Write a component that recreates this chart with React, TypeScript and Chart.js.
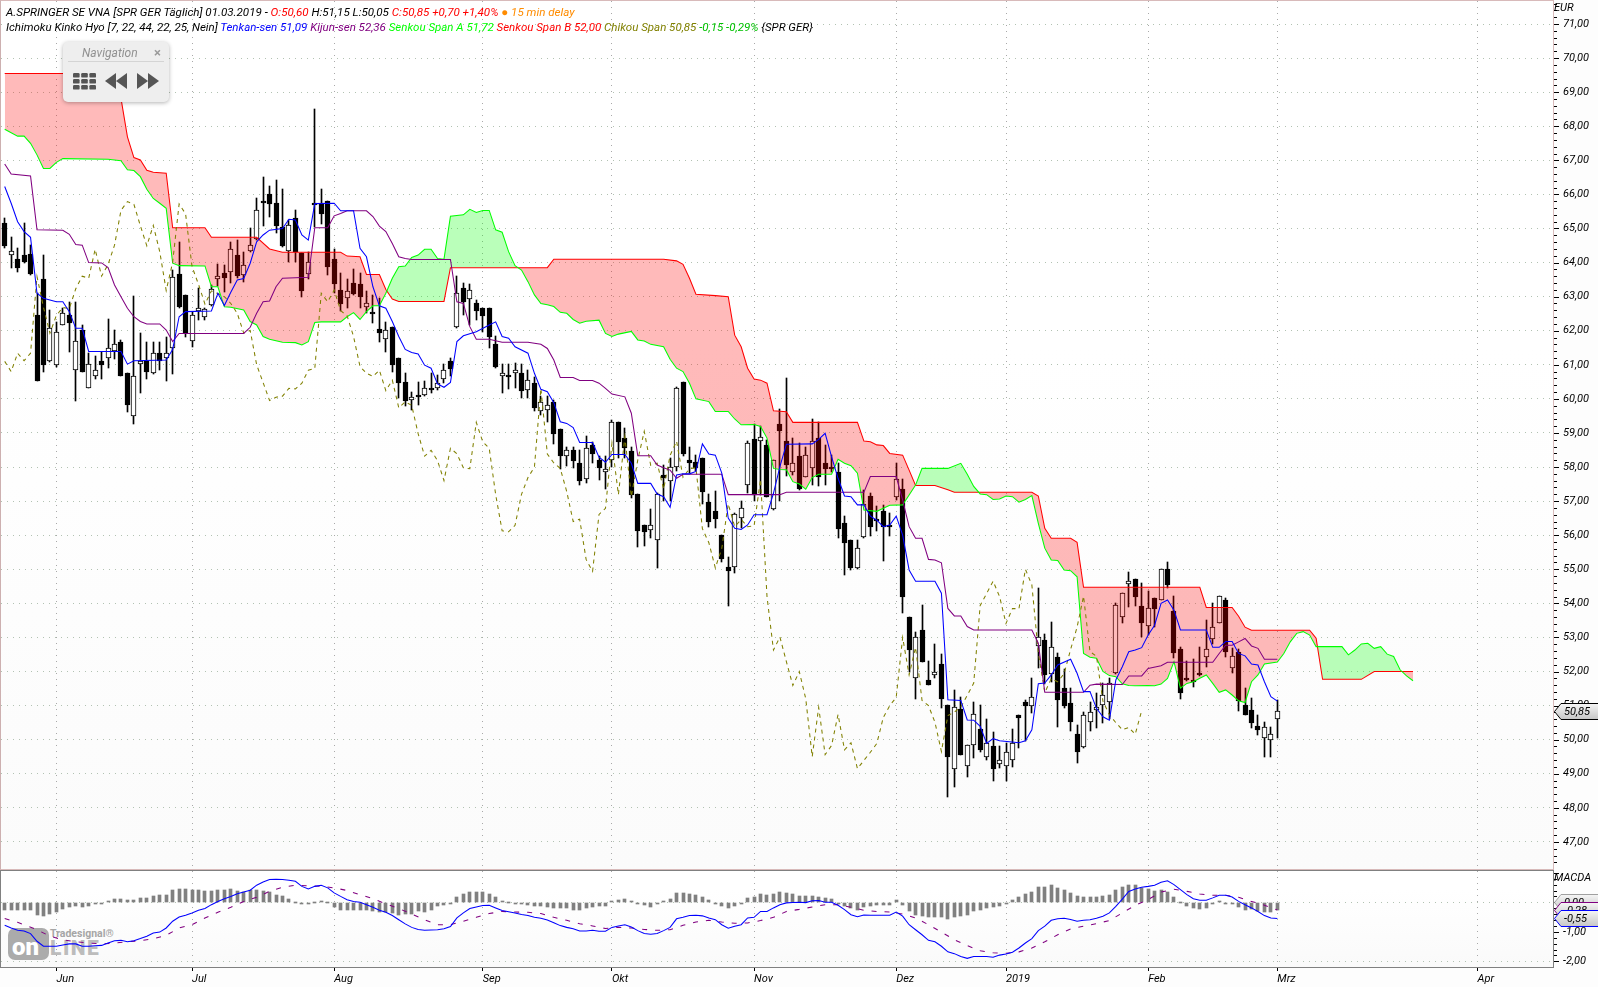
import React, { useEffect, useRef } from "react";
import { Chart, registerables } from "chart.js";

Chart.register(...registerables);

const opens = [65.15,64.21,64.09,64.21,64.24,62.46,63.51,61.10,61.00,62.18,62.46,60.84,62.02,60.33,60.68,61.10,61.19,61.40,61.66,60.77,59.49,61.01,61.10,60.75,61.34,61.19,61.48,63.66,63.05,61.69,62.59,62.39,62.74,63.54,63.68,63.73,64.21,63.63,64.35,64.69,65.80,66.00,65.74,65.03,64.35,65.30,64.27,63.66,65.75,65.72,65.80,64.09,63.19,62.95,63.39,63.37,62.69,62.54,62.05,61.75,62.10,61.19,60.49,59.96,60.11,60.10,60.31,60.31,60.59,61.10,62.10,63.24,62.94,62.80,62.66,62.66,61.61,60.69,60.70,60.75,60.76,60.25,60.46,59.65,59.66,59.91,59.12,58.31,58.49,58.12,57.64,58.65,58.20,57.85,58.20,59.31,58.85,58.46,57.21,56.30,56.14,55.85,57.77,57.60,58.00,60.50,58.21,58.14,58.26,56.97,56.71,56.00,55.07,55.06,56.50,57.46,58.81,58.76,58.65,56.76,59.26,58.76,57.86,58.32,57.70,57.97,58.84,58.11,58.00,57.84,56.35,55.85,55.05,55.94,57.15,56.48,56.71,56.29,57.13,57.36,53.60,51.80,53.22,51.75,51.94,52.22,51.02,49.15,50.90,49.24,49.83,50.30,49.50,49.82,49.30,49.22,49.39,50.71,51.11,51.00,52.74,52.93,51.92,52.42,51.51,51.07,50.16,49.78,50.51,50.86,51.01,51.11,51.95,53.59,54.58,54.71,53.92,53.35,54.15,54.10,55.01,53.78,52.65,51.81,51.74,51.96,52.42,52.95,53.41,54.09,52.09,52.58,51.02,50.87,50.39,50.04,49.98,50.60];
const highs = [65.30,64.74,64.42,65.15,64.51,63.10,64.22,62.61,62.27,62.66,62.85,62.85,62.17,61.34,61.26,61.39,62.33,62.02,61.73,60.77,63.02,61.92,61.68,61.68,61.68,61.83,63.78,64.60,63.05,62.56,63.24,62.66,63.34,63.96,63.93,64.59,64.66,64.30,65.00,65.88,66.50,66.25,66.42,66.15,65.25,65.54,64.27,64.32,68.50,66.15,65.80,64.39,63.68,63.51,63.80,63.68,63.16,63.05,62.95,62.27,62.10,61.19,60.75,60.21,60.49,60.51,60.75,60.70,61.02,61.19,63.61,63.39,63.37,62.90,62.68,62.66,61.85,61.02,61.02,61.04,61.02,60.85,60.65,60.07,60.07,59.97,59.12,58.60,58.60,58.50,58.91,58.74,58.31,58.31,59.38,59.33,59.14,58.60,57.21,56.30,56.76,57.23,58.06,58.26,60.36,60.50,58.60,58.35,58.26,57.20,57.30,56.01,55.35,56.64,56.99,58.75,59.26,59.19,58.79,58.21,59.69,60.61,58.84,58.70,58.60,59.41,59.33,58.65,58.35,58.11,56.56,55.86,55.86,57.33,57.23,56.86,56.89,56.64,58.11,57.66,53.60,53.17,53.95,52.32,52.80,52.50,51.02,51.46,51.26,49.84,51.10,51.02,50.60,50.22,49.82,49.91,50.30,50.71,51.17,51.80,54.44,53.10,53.44,52.55,52.07,51.51,50.43,50.82,51.12,51.36,51.66,51.80,54.00,54.29,54.91,54.71,54.59,54.36,54.15,55.01,55.20,54.22,52.73,52.32,52.37,52.73,53.51,54.00,54.22,54.15,52.68,52.66,51.51,51.21,50.71,50.51,50.36,51.15];
const lows = [64.42,63.85,63.71,63.98,63.63,60.53,60.80,61.09,60.94,62.17,61.39,59.95,60.80,60.31,60.59,60.59,60.92,61.16,60.68,59.62,59.25,60.16,60.59,60.73,60.85,60.53,60.74,62.66,61.83,61.53,62.30,62.30,62.73,63.31,63.15,63.39,63.54,63.44,64.32,64.66,65.07,65.35,64.88,64.47,64.03,64.03,63.00,63.51,65.05,65.13,63.63,63.10,62.59,62.68,63.05,62.68,62.51,62.24,61.68,61.39,60.80,60.02,59.80,59.67,59.82,60.07,60.16,60.26,60.46,60.68,62.09,62.46,62.17,62.30,61.97,61.50,60.90,60.18,60.28,60.31,60.04,60.04,59.65,59.53,59.33,58.68,57.93,58.03,57.98,57.47,57.54,58.11,57.62,57.35,58.01,58.26,58.26,57.10,55.64,55.69,55.91,55.05,56.99,56.99,57.87,58.31,57.82,57.87,56.92,56.25,56.20,55.20,53.91,54.90,56.20,57.25,56.99,57.18,57.11,56.74,56.99,57.75,57.77,57.33,57.70,57.47,57.43,57.47,57.86,55.91,54.84,54.98,55.00,55.93,55.98,56.13,55.25,55.98,57.03,53.71,51.99,51.20,52.29,51.59,51.80,50.94,48.33,48.62,49.55,48.89,49.45,49.65,49.40,48.80,49.16,48.80,49.21,49.75,49.95,50.77,52.10,51.64,51.70,50.38,50.92,50.24,49.33,49.75,50.24,50.33,50.50,50.60,51.92,53.43,53.90,53.93,53.00,53.07,53.32,54.10,54.44,52.39,51.20,51.71,51.56,51.87,52.14,52.81,53.41,52.44,51.95,50.85,50.73,50.35,50.14,49.50,49.50,50.05];
const closes = [64.50,64.35,63.85,64.03,63.66,60.53,61.00,62.09,61.96,62.51,62.24,61.69,60.80,61.01,60.84,61.00,61.50,61.60,60.68,59.83,60.66,61.10,60.80,61.34,61.12,61.34,63.59,62.69,61.93,62.45,62.68,62.65,63.23,63.60,63.54,64.39,63.60,63.94,64.51,65.53,65.79,65.71,65.08,64.49,65.09,64.32,63.18,64.01,65.72,65.43,63.88,63.36,62.78,63.17,63.09,63.00,62.80,62.51,61.93,62.01,61.00,60.48,59.95,60.05,60.08,60.31,60.29,60.46,60.84,60.89,63.10,62.85,63.19,62.59,62.44,61.83,60.95,60.75,60.66,60.84,60.24,60.55,59.74,59.91,59.81,58.98,58.32,58.49,58.19,57.60,58.55,58.39,57.98,57.95,59.31,58.74,58.55,57.19,56.13,56.10,56.29,57.20,57.69,58.00,60.31,58.38,58.12,57.96,57.28,56.40,56.47,55.29,54.94,56.61,56.79,58.70,57.19,58.89,57.13,58.21,59.05,58.05,58.11,57.35,58.34,58.76,57.70,57.95,57.98,56.19,55.78,55.04,55.61,56.92,56.25,56.46,56.25,56.27,57.64,54.20,52.63,53.01,52.29,51.59,52.00,51.20,49.50,50.95,49.56,49.83,50.74,49.70,49.91,49.15,49.39,49.63,49.89,50.65,51.00,51.24,53.00,51.90,52.71,51.15,51.00,50.51,49.65,50.71,50.81,50.95,51.30,51.66,53.94,54.29,54.65,54.20,53.41,53.85,53.84,55.00,54.54,52.55,51.38,51.79,51.70,51.94,52.65,53.30,54.21,52.58,52.45,51.13,50.73,50.50,50.29,50.36,50.16,50.85];
const chikou = [61.10,60.80,61.34,61.12,61.34,63.59,62.69,61.93,62.45,62.68,62.65,63.23,63.60,63.54,64.39,63.60,63.94,64.51,65.53,65.79,65.71,65.08,64.49,65.09,64.32,63.18,64.01,65.72,65.43,63.88,63.36,62.78,63.17,63.09,63.00,62.80,62.51,61.93,62.01,61.00,60.48,59.95,60.05,60.08,60.31,60.29,60.46,60.84,60.89,63.10,62.85,63.19,62.59,62.44,61.83,60.95,60.75,60.66,60.84,60.24,60.55,59.74,59.91,59.81,58.98,58.32,58.49,58.19,57.60,58.55,58.39,57.98,57.95,59.31,58.74,58.55,57.19,56.13,56.10,56.29,57.20,57.69,58.00,60.31,58.38,58.12,57.96,57.28,56.40,56.47,55.29,54.94,56.61,56.79,58.70,57.19,58.89,57.13,58.21,59.05,58.05,58.11,57.35,58.34,58.76,57.70,57.95,57.98,56.19,55.78,55.04,55.61,56.92,56.25,56.46,56.25,56.27,57.64,54.20,52.63,53.01,52.29,51.59,52.00,51.20,49.50,50.95,49.56,49.83,50.74,49.70,49.91,49.15,49.39,49.63,49.89,50.65,51.00,51.24,53.00,51.90,52.71,51.15,51.00,50.51,49.65,50.71,50.81,50.95,51.30,51.66,53.94,54.29,54.65,54.20,53.41,53.85,53.84,55.00,54.54,52.55,51.38,51.79,51.70,51.94,52.65,53.30,54.21,52.58,52.45,51.13,50.73,50.50,50.29,50.36,50.16,50.85];

const senkouB = [[0,69.55],[17,69.55],[18,68.82],[19,67.69],[20,67.08],[21,67.01],[22,66.71],[23,66.65],[25,66.62],[26,65.02],[31,65.02],[32,64.74],[39,64.74],[41,64.40],[43,64.30],[52,64.30],[53,64.19],[55,64.17],[56,63.65],[58,63.65],[59,63.21],[60,62.93],[61,62.86],[68,62.86],[69,63.85],[84,63.85],[85,64.10],[102,64.10],[104,64.05],[105,63.95],[106,63.54],[107,63.07],[110,63.03],[112,63.00],[113,61.87],[114,61.53],[115,60.90],[116,60.58],[117,60.55],[118,60.46],[119,59.65],[121,59.62],[122,59.31],[132,59.31],[133,58.76],[134,58.74],[135,58.65],[136,58.63],[137,58.40],[139,58.35],[140,57.91],[141,57.46],[144,57.46],[146,57.33],[147,57.26],[159,57.26],[160,57.15],[161,56.20],[162,55.91],[165,55.91],[166,55.79],[167,54.47],[185,54.47],[186,53.88],[190,53.88],[191,53.62],[192,53.30],[193,53.21],[202,53.21],[203,52.98],[204,51.77],[210,51.77],[212,52.00],[218,52.00]];
const senkouA = [[0,67.91],[2,67.71],[3,67.71],[4,67.50],[5,67.16],[6,66.76],[7,66.76],[8,66.94],[9,67.05],[16,67.03],[18,66.99],[19,66.72],[20,66.70],[21,66.52],[22,66.15],[23,65.88],[24,65.74],[25,65.59],[26,63.98],[27,63.91],[31,63.90],[32,63.29],[33,63.29],[34,62.70],[35,62.69],[37,62.61],[38,62.27],[39,62.17],[40,61.83],[41,61.75],[43,61.66],[45,61.65],[46,61.58],[47,61.68],[48,62.24],[49,62.26],[52,62.26],[53,62.41],[54,62.53],[55,62.33],[56,62.56],[57,62.73],[58,62.73],[59,63.10],[60,63.54],[61,63.88],[62,63.90],[63,64.15],[64,64.22],[65,64.39],[66,64.39],[67,64.12],[68,64.10],[69,65.36],[71,65.40],[72,65.56],[73,65.47],[74,65.53],[75,65.53],[76,64.96],[77,64.89],[78,64.32],[79,63.91],[80,63.78],[81,63.44],[82,63.05],[83,62.80],[84,62.76],[85,62.71],[86,62.54],[87,62.51],[88,62.33],[89,62.22],[90,62.28],[92,62.31],[93,61.92],[94,61.83],[95,61.90],[97,61.98],[98,61.73],[99,61.70],[100,61.60],[102,61.53],[103,61.16],[104,60.90],[105,60.80],[106,60.46],[107,60.00],[109,59.92],[110,59.63],[112,59.63],[113,59.41],[114,59.24],[116,59.25],[117,59.19],[118,58.85],[119,57.96],[120,57.93],[121,57.92],[122,57.57],[123,57.50],[124,57.35],[125,57.69],[126,57.79],[128,57.79],[129,58.23],[130,58.11],[131,58.04],[132,57.82],[133,56.74],[135,56.70],[136,56.79],[137,56.88],[139,56.89],[140,57.18],[141,57.47],[142,57.96],[146,57.96],[148,58.11],[149,57.79],[150,57.43],[151,57.21],[152,57.19],[153,57.05],[154,57.06],[155,57.15],[156,57.13],[157,56.97],[158,57.05],[159,57.16],[160,56.35],[161,55.62],[162,55.27],[163,55.26],[164,54.98],[165,54.96],[166,54.78],[167,52.53],[168,52.42],[169,52.39],[170,52.00],[171,51.88],[172,51.85],[173,51.64],[174,51.59],[175,51.58],[177,51.59],[178,51.58],[179,51.63],[180,51.80],[181,52.29],[182,51.51],[183,51.65],[184,51.70],[185,51.80],[186,51.90],[187,51.65],[188,51.39],[189,51.46],[190,51.31],[191,51.14],[192,51.09],[193,51.70],[194,51.90],[195,52.22],[197,52.28],[198,52.53],[199,52.87],[200,53.12],[201,53.17],[202,53.07],[203,52.73],[207,52.73],[208,52.49],[209,52.63],[210,52.81],[211,52.83],[212,52.68],[213,52.73],[214,52.51],[215,52.44],[216,52.05],[217,51.87],[218,51.73]];
const tenkan = [[0,66.23],[1,65.74],[2,65.20],[3,64.91],[4,64.74],[5,63.10],[6,62.95],[8,62.85],[9,62.85],[10,62.56],[11,62.07],[12,62.07],[13,61.39],[18,61.39],[19,61.02],[20,61.12],[25,61.14],[26,61.45],[27,62.41],[28,62.56],[32,62.58],[33,63.10],[34,62.74],[35,63.13],[36,63.49],[37,63.53],[38,63.98],[39,64.61],[40,64.81],[41,64.95],[43,65.00],[44,65.27],[45,65.25],[46,64.81],[47,64.66],[48,65.73],[51,65.74],[52,65.52],[54,65.52],[55,64.42],[56,64.17],[57,63.29],[58,62.73],[59,62.66],[60,62.27],[61,61.83],[62,61.45],[63,61.36],[64,61.32],[65,60.99],[66,60.90],[67,60.44],[68,60.34],[69,60.48],[70,61.68],[71,61.85],[73,61.97],[75,62.17],[76,62.26],[77,61.83],[78,61.78],[79,61.53],[81,61.34],[82,60.75],[83,60.28],[84,60.21],[85,59.89],[86,59.33],[87,59.28],[88,59.16],[89,58.72],[91,58.72],[92,58.29],[93,58.14],[94,58.37],[96,58.37],[97,58.11],[98,57.52],[100,57.52],[101,57.21],[102,57.13],[103,56.82],[104,57.77],[105,57.80],[106,57.80],[107,57.87],[108,58.68],[109,58.38],[110,58.35],[111,57.82],[112,56.50],[113,56.20],[114,56.17],[115,56.30],[116,56.60],[118,56.60],[119,57.23],[120,58.01],[121,58.67],[125,58.68],[126,58.81],[127,58.99],[128,58.30],[129,57.67],[130,57.15],[131,57.13],[132,56.89],[133,56.89],[134,56.56],[135,56.44],[136,56.25],[137,56.30],[138,56.56],[139,56.00],[140,54.98],[141,54.65],[144,54.65],[145,54.30],[146,51.17],[148,51.15],[149,50.58],[150,50.57],[151,50.39],[152,49.89],[153,50.03],[154,49.97],[157,49.91],[158,49.97],[159,50.29],[160,51.64],[161,51.66],[162,51.90],[163,52.19],[165,52.36],[166,51.95],[167,51.41],[168,51.41],[169,50.92],[170,50.67],[171,50.57],[172,51.75],[173,52.14],[174,52.58],[175,52.63],[176,52.70],[177,53.07],[178,53.36],[179,54.00],[180,54.10],[181,53.80],[182,53.22],[186,53.22],[187,52.71],[188,52.71],[189,52.88],[190,52.88],[191,52.53],[192,52.46],[193,52.22],[194,52.19],[195,51.70],[196,51.26],[197,51.13]];
const kijun = [[0,66.89],[1,66.60],[4,66.54],[5,64.96],[9,64.95],[10,64.83],[11,64.53],[12,64.51],[13,64.00],[15,63.99],[16,63.85],[17,63.34],[18,63.00],[19,62.66],[20,62.41],[21,62.27],[22,62.20],[24,62.20],[25,62.02],[26,61.68],[27,61.92],[37,61.92],[38,62.10],[39,62.51],[40,62.85],[41,62.87],[42,63.29],[43,63.54],[47,63.57],[48,65.02],[50,65.02],[51,65.37],[52,65.44],[53,65.52],[56,65.52],[57,65.35],[58,65.07],[59,64.91],[60,64.56],[61,64.17],[62,64.12],[63,64.09],[69,64.09],[70,62.85],[71,62.80],[72,62.12],[73,61.75],[75,61.75],[77,61.66],[81,61.66],[83,61.60],[84,61.48],[85,61.14],[86,60.63],[88,60.63],[89,60.54],[91,60.54],[92,60.46],[93,60.31],[94,60.14],[96,60.06],[97,59.58],[98,58.33],[100,58.33],[101,58.06],[102,57.98],[103,57.91],[104,57.67],[105,57.79],[111,57.79],[112,57.19],[120,57.19],[121,57.26],[133,57.26],[134,57.72],[138,57.72],[139,57.03],[140,56.25],[141,55.91],[142,55.91],[143,55.29],[144,55.27],[145,55.19],[146,53.85],[147,53.63],[148,53.63],[149,53.32],[150,53.22],[159,53.22],[160,52.83],[161,51.39],[167,51.39],[168,51.60],[169,51.63],[173,51.62],[174,51.87],[176,51.87],[177,52.09],[179,52.17],[180,52.27],[187,52.27],[188,52.53],[189,52.77],[190,52.77],[191,52.87],[192,52.97],[193,52.75],[194,52.68],[195,52.36],[197,52.36]];

const macdLine = [-0.78,-0.87,-0.95,-0.97,-1.06,-1.32,-1.49,-1.49,-1.49,-1.45,-1.41,-1.41,-1.49,-1.49,-1.47,-1.46,-1.38,-1.30,-1.29,-1.34,-1.30,-1.23,-1.15,-1.04,-1.01,-0.87,-0.64,-0.50,-0.44,-0.36,-0.27,-0.21,-0.08,0.03,0.12,0.20,0.29,0.35,0.41,0.58,0.69,0.77,0.78,0.77,0.75,0.71,0.54,0.45,0.54,0.58,0.49,0.32,0.20,0.09,0.03,0,-0.08,-0.17,-0.27,-0.34,-0.45,-0.59,-0.73,-0.85,-0.92,-0.95,-0.94,-0.93,-0.90,-0.82,-0.53,-0.36,-0.21,-0.16,-0.11,-0.10,-0.19,-0.28,-0.32,-0.36,-0.41,-0.45,-0.51,-0.54,-0.60,-0.69,-0.79,-0.85,-0.90,-0.97,-0.97,-0.95,-0.98,-0.98,-0.85,-0.80,-0.76,-0.84,-0.96,-1.06,-1.08,-1.06,-0.96,-0.85,-0.56,-0.51,-0.45,-0.44,-0.46,-0.53,-0.59,-0.76,-0.88,-0.81,-0.76,-0.53,-0.51,-0.31,-0.31,-0.19,-0.08,-0.02,-0.01,0,-0.01,0.05,0.06,0,0,-0.10,-0.25,-0.42,-0.49,-0.43,-0.44,-0.44,-0.44,-0.44,-0.33,-0.47,-0.76,-0.93,-1.10,-1.29,-1.34,-1.49,-1.68,-1.74,-1.84,-1.90,-1.84,-1.84,-1.84,-1.86,-1.79,-1.75,-1.69,-1.55,-1.38,-1.23,-0.96,-0.81,-0.61,-0.56,-0.54,-0.58,-0.64,-0.61,-0.59,-0.54,-0.47,-0.36,-0.14,0.11,0.37,0.45,0.51,0.54,0.58,0.68,0.73,0.60,0.43,0.26,0.12,0.07,0.07,0.15,0.24,0.24,0.18,0.03,-0.08,-0.19,-0.31,-0.45,-0.53,-0.55];
const macdSignal = [[0,-0.55],[2,-0.68],[3,-0.76],[5,-0.93],[7,-1.15],[9,-1.27],[11,-1.34],[13,-1.38],[15,-1.41],[17,-1.38],[19,-1.34],[21,-1.30],[23,-1.24],[25,-1.12],[27,-0.87],[29,-0.76],[31,-0.53],[33,-0.34],[35,-0.17],[37,0.03],[39,0.17],[41,0.37],[43,0.51],[45,0.58],[47,0.56],[49,0.54],[51,0.49],[53,0.40],[55,0.26],[57,0.12],[59,-0.05],[61,-0.21],[63,-0.40],[65,-0.59],[67,-0.76],[69,-0.76],[71,-0.64],[73,-0.51],[75,-0.38],[77,-0.31],[79,-0.33],[81,-0.34],[83,-0.38],[85,-0.51],[87,-0.61],[89,-0.73],[91,-0.80],[93,-0.89],[95,-0.85],[97,-0.87],[99,-0.92],[101,-0.95],[103,-0.93],[105,-0.78],[107,-0.67],[109,-0.61],[111,-0.67],[113,-0.71],[115,-0.70],[117,-0.62],[119,-0.51],[121,-0.31],[123,-0.24],[125,-0.16],[127,-0.08],[129,-0.08],[131,-0.17],[133,-0.27],[135,-0.31],[137,-0.33],[139,-0.40],[141,-0.53],[143,-0.76],[145,-1.01],[147,-1.27],[149,-1.47],[151,-1.64],[153,-1.71],[155,-1.73],[157,-1.68],[159,-1.55],[161,-1.34],[163,-1.10],[165,-0.90],[167,-0.81],[169,-0.72],[171,-0.62],[173,-0.36],[175,-0.10],[177,0.09],[179,0.35],[181,0.44],[183,0.37],[185,0.28],[187,0.24],[189,0.24],[191,0.17],[193,0.03],[195,-0.10],[197,-0.26]];
const macdHist = [-0.25,-0.27,-0.27,-0.27,-0.27,-0.42,-0.45,-0.38,-0.33,-0.23,-0.16,-0.14,-0.17,-0.11,-0.06,-0.05,0.03,0.10,0.11,0.07,0.07,0.15,0.15,0.23,0.25,0.26,0.43,0.45,0.44,0.43,0.42,0.38,0.40,0.42,0.42,0.45,0.40,0.36,0.42,0.42,0.40,0.35,0.24,0.23,0.11,0.02,-0.03,-0.06,0.01,0.03,0.01,-0.16,-0.25,-0.25,-0.27,-0.25,-0.27,-0.31,-0.34,-0.34,-0.37,-0.42,-0.40,-0.40,-0.31,-0.33,-0.25,-0.14,-0.10,-0.02,0.18,0.28,0.35,0.35,0.35,0.28,0.17,0.06,0,-0.01,-0.06,-0.10,-0.11,-0.14,-0.17,-0.19,-0.21,-0.21,-0.26,-0.25,-0.19,-0.16,-0.14,-0.11,0.03,0.07,0.11,0.03,-0.05,-0.10,-0.16,-0.06,0.03,0.11,0.32,0.32,0.28,0.24,0.18,0.07,-0.01,-0.11,-0.19,-0.11,-0.03,0.15,0.18,0.28,0.26,0.28,0.35,0.32,0.29,0.20,0.21,0.20,0.18,0.15,0.11,-0.05,-0.14,-0.21,-0.25,-0.17,-0.11,-0.10,-0.08,-0.08,0.07,-0.10,-0.31,-0.42,-0.47,-0.50,-0.50,-0.50,-0.56,-0.49,-0.45,-0.43,-0.31,-0.26,-0.19,-0.16,-0.11,-0.03,0.07,0.17,0.28,0.35,0.52,0.52,0.59,0.49,0.42,0.32,0.21,0.18,0.18,0.18,0.23,0.25,0.42,0.52,0.59,0.59,0.49,0.46,0.40,0.42,0.35,0.18,0,-0.11,-0.19,-0.23,-0.18,-0.07,0.05,-0.01,-0.02,-0.16,-0.25,-0.24,-0.31,-0.33,-0.33,-0.27];

const monthIndex = [8, 29, 51, 74, 94, 116, 138, 155, 177, 197, 228];
const monthLabels = ["Jun", "Jul", "Aug", "Sep", "Okt", "Nov", "Dez", "2019", "Feb", "Mrz", "Apr"];

const FONT = "Roboto, 'Open Sans', sans-serif";
const tickFont = { family: FONT, size: 11, style: "italic" as const };
const isInt = (v: number) => Math.abs(v - Math.round(v)) < 1e-6;
const de = (v: number) => v.toFixed(2).replace(".", ",");
const pts = (a: number[][]) => a.map(([x, y]) => ({ x, y }));
const XMIN = -0.5728;
const XMAX = 239.67;

const snapBars = {
  id: "snapBars",
  afterDatasetsUpdate(chart: any) {
    chart.data.datasets.forEach((d: any, idx: number) => {
      if (d.type !== "bar") return;
      chart.getDatasetMeta(idx).data.forEach((el: any, i: number) => {
        const w = el.width;
        el.x = Math.round(el.x - w / 2) + w / 2;
        const top = Math.round(Math.min(el.y, el.base));
        let bot = Math.round(Math.max(el.y, el.base));
        const raw = d.data[i].y;
        const min = Array.isArray(raw) && d.isBody ? (raw[1] >= raw[0] ? 3 : 2) : 1;
        if (bot - top < min) bot = top + min;
        el.y = top;
        el.base = bot;
      });
    });
  },
};

const axisTicks = {
  id: "axisTicks",
  afterDraw(chart: any) {
    const s = chart.scales.y;
    const c = chart.ctx;
    c.save();
    c.strokeStyle = "#000";
    c.lineWidth = 1;
    s.ticks.forEach((t: any) => {
      const y = Math.round(s.getPixelForValue(t.value)) + 0.5;
      const len = isInt(t.value) ? 5 : 3;
      c.beginPath();
      c.moveTo(s.left + 1, y);
      c.lineTo(s.left + 1 + len, y);
      c.stroke();
    });
    c.restore();
  },
};

const xScale = (showTicks: boolean) => ({
  type: "linear" as const,
  min: XMIN,
  max: XMAX,
  offset: false,
  afterBuildTicks: (s: any) => {
    s.ticks = monthIndex.map((v) => ({ value: v }));
  },
  afterFit: (s: any) => {
    s.height = showTicks ? 20 : 0;
    s.paddingLeft = s.paddingRight = 0;
  },
  grid: {
    offset: false,
    color: "#a9a9a9",
    drawTicks: showTicks,
    tickLength: 4,
    tickColor: "#000",
  },
  border: { display: false, dash: [1, 5] },
  ticks: {
    display: showTicks,
    autoSkip: false,
    maxRotation: 0,
    minRotation: 0,
    align: "start" as const,
    padding: 2,
    color: "#000",
    font: tickFont,
    callback: (v: number) => monthLabels[monthIndex.indexOf(v)] ?? "",
  },
});

const yFit = (s: any) => {
  s.width = 45;
  s.paddingTop = s.paddingBottom = 0;
};

const lineDs = (label: string, data: any[], color: string, order: number, extra: object = {}) => ({
  type: "line" as const,
  label,
  data,
  borderColor: color,
  borderWidth: 1.05,
  pointRadius: 0,
  tension: 0,
  fill: false,
  order,
  ...extra,
});

export default function App() {
  const mainRef = useRef<HTMLCanvasElement>(null);
  const macdRef = useRef<HTMLCanvasElement>(null);

  useEffect(() => {
    const idx = closes.map((_, i) => i);
    const main = new Chart(mainRef.current!, {
      type: "line",
      plugins: [snapBars, axisTicks],
      data: {
        datasets: [
          {
            type: "bar",
            label: "Docht",
            data: idx.map((i) => ({ x: i, y: [lows[i], highs[i]] })),
            backgroundColor: "#000",
            borderWidth: 0,
            barThickness: 1,
            grouped: false,
            order: 100,
          },
          {
            type: "bar",
            isBody: true,
            label: "Kerze",
            data: idx.map((i) => ({ x: i, y: [opens[i], closes[i]] })),
            backgroundColor: idx.map((i) => (closes[i] >= opens[i] ? "#fff" : "#000")),
            borderColor: "#000",
            borderWidth: 1,
            borderSkipped: false,
            barThickness: 5,
            grouped: false,
            order: 99,
          },
          lineDs("Senkou Span A", pts(senkouA), "#00ff00", 49),
          lineDs("Senkou Span B", pts(senkouB), "#ff0000", 50, {
            fill: { target: 2, above: "rgba(255,0,0,0.27)", below: "rgba(0,255,0,0.27)" },
          }),
          lineDs("Chikou Span", chikou.map((y, x) => ({ x, y })), "#808000", 48, { borderDash: [4, 4] }),
          lineDs("Kijun-sen", pts(kijun), "#800080", 47),
          lineDs("Tenkan-sen", pts(tenkan), "#0000ff", 46),
        ] as any,
      },
      options: {
        animation: false,
        responsive: false,
        events: [],
        layout: { autoPadding: false, padding: { left: 1, top: 1, bottom: 1, right: 0 } },
        plugins: { legend: { display: false }, tooltip: { enabled: false } },
        scales: {
          x: xScale(false),
          y: {
            type: "linear",
            position: "right",
            min: 46.205,
            max: 71.675,
            afterFit: yFit,
            grid: {
              drawTicks: false,
              color: (c: any) => (isInt(c.tick.value) ? "#b2c2b2" : "rgba(0,0,0,0)"),
            },
            border: { display: false, dash: [1, 5] },
            ticks: {
              stepSize: 0.2,
              includeBounds: false,
              autoSkip: false,
              padding: 10,
              color: "#000",
              font: tickFont,
              callback: (v: number) => (isInt(v) ? de(v) : ""),
            },
          },
        },
      } as any,
    });

    const macd = new Chart(macdRef.current!, {
      type: "line",
      plugins: [snapBars, axisTicks],
      data: {
        datasets: [
          {
            type: "bar",
            label: "Histogramm",
            data: macdHist.map((y, x) => ({ x, y })),
            backgroundColor: "#808080",
            borderWidth: 0,
            barThickness: 3,
            grouped: false,
            order: 60,
          },
          lineDs("Signal", pts(macdSignal), "#800080", 50, { borderDash: [5, 8] }),
          lineDs("MACD", macdLine.map((y, x) => ({ x, y })), "#0000ff", 40),
        ] as any,
      },
      options: {
        animation: false,
        responsive: false,
        events: [],
        layout: { autoPadding: false, padding: { left: 1, top: 1, bottom: 0, right: 0 } },
        plugins: { legend: { display: false }, tooltip: { enabled: false } },
        scales: {
          x: xScale(true),
          y: {
            type: "linear",
            position: "right",
            min: -2.193,
            max: 1.061,
            afterFit: yFit,
            grid: {
              drawTicks: false,
              color: (c: any) =>
                Math.abs(c.tick.value) < 1e-6 || Math.abs(c.tick.value + 2) < 1e-6 ? "#b2c2b2" : "rgba(0,0,0,0)",
            },
            border: { display: false, dash: [1, 5] },
            ticks: {
              stepSize: 0.2,
              includeBounds: false,
              autoSkip: false,
              padding: 10,
              color: "#000",
              font: tickFont,
              callback: (v: number) => (isInt(v) && v < -0.5 ? de(v) : ""),
            },
          },
        },
      } as any,
    });

    return () => {
      main.destroy();
      macd.destroy();
    };
  }, []);

  const abs = (l: number, t: number, w: number, h: number): React.CSSProperties => ({
    position: "absolute",
    left: l,
    top: t,
    width: w,
    height: h,
  });
  const txt: React.CSSProperties = { fontFamily: FONT, fontStyle: "italic", fontSize: 11, whiteSpace: "pre", position: "absolute", color: "#000" };

  return (
    <div style={{ position: "absolute", left: 0, top: 0, width: 1598, height: 987, overflow: "hidden", background: "#fdfdfd" }}>
      <div style={{ ...abs(1, 1, 1552, 868), background: "linear-gradient(#ffffff 40%, #fbfbfb 100%)" }} />
      <div style={{ ...abs(1, 871, 1552, 96), background: "linear-gradient(#ffffff 20%, #fafafa 100%)" }} />

      {/* Logo */}
      <div style={{ ...abs(8, 928, 41, 32), background: "#ababab", borderRadius: 7 }} />
      <div style={{ ...txt, left: 12, top: 934, fontStyle: "normal", fontWeight: 900, fontSize: 24, color: "#fff", lineHeight: "26px" }}>on</div>
      <div style={{ ...txt, left: 50, top: 936, fontStyle: "normal", fontWeight: 900, fontSize: 21, letterSpacing: 1.5, color: "#bcbcbc", lineHeight: "24px" }}>LINE</div>
      <div style={{ ...txt, left: 50, top: 928, fontStyle: "normal", fontWeight: 700, fontSize: 10.5, color: "#a6a6a6", lineHeight: "12px" }}>Tradesignal®</div>

      <canvas ref={mainRef} width={1598} height={870} style={{ ...abs(0, 0, 1598, 870), display: "block" }} />
      <canvas ref={macdRef} width={1598} height={117} style={{ ...abs(0, 870, 1598, 117), display: "block" }} />

      {/* Pane frames */}
      <div style={{ ...abs(0, 0, 1554, 870), boxSizing: "border-box", borderTop: "1px solid #d8baba", borderLeft: "1px solid #cdb0b0", borderRight: "1px solid #d8baba", borderBottom: "1px solid #d8baba" }} />
      <div style={{ ...abs(0, 870, 1554, 98), boxSizing: "border-box", border: "1px solid #808080" }} />

      {/* Legend */}
      <div style={{ ...txt, left: 6, top: 5, lineHeight: "14px", fontSize: 11.6 }}>
        A.SPRINGER SE VNA [SPR GER Täglich] 01.03.2019 - <span style={{ color: "#ff0000" }}>O:50,60</span> H:51,15 L:50,05{" "}
        <span style={{ color: "#ff0000" }}>C:50,85 +0,70 +1,40%</span> <span style={{ color: "#ff8c00" }}>● 15 min delay</span>
      </div>
      <div style={{ ...txt, left: 6, top: 20, lineHeight: "14px", fontSize: 11.5 }}>
        Ichimoku Kinko Hyo [7, 22, 44, 22, 25, Nein] <span style={{ color: "#0000ff" }}>Tenkan-sen 51,09</span>{" "}
        <span style={{ color: "#800080" }}>Kijun-sen 52,36</span> <span style={{ color: "#00ff00" }}>Senkou Span A 51,72</span>{" "}
        <span style={{ color: "#ff0000" }}>Senkou Span B 52,00</span> <span style={{ color: "#808000" }}>Chikou Span 50,85</span>{" "}
        <span style={{ color: "#00c000" }}>-0,15 -0,29%</span> {"{SPR GER}"}
      </div>

      <div style={{ ...txt, left: 1554, top: 1, lineHeight: "13px" }}>EUR</div>
      <div style={{ ...txt, left: 1554, top: 871, lineHeight: "13px" }}>MACDA</div>

      {/* Navigation panel */}
      <div style={{ ...abs(63, 42, 106, 60), background: "#eeeeee", borderRadius: 5, boxShadow: "0 1px 4px rgba(0,0,0,0.3)" }}>
        <div style={{ ...txt, left: 19, top: 4, fontSize: 12, color: "#909090", lineHeight: "15px" }}>Navigation</div>
        <div style={{ ...txt, left: 91, top: 3, fontSize: 13, fontStyle: "normal", fontWeight: 700, color: "#9a9a9a", lineHeight: "15px" }}>×</div>
        <div style={{ ...abs(5, 19, 96, 1), background: "#d4d4d4" }} />
        <svg style={abs(0, 0, 106, 60)} viewBox="0 0 106 60">
          {[0, 1, 2].map((r) =>
            [0, 1, 2].map((c) => <rect key={`${r}${c}`} x={10 + c * 8.2} y={31 + r * 6} width={6.6} height={4.6} rx={1.2} fill="#555" />)
          )}
          <path d="M42 39 L53 31 L53 47 Z M53 39 L64 31 L64 47 Z" fill="#555" />
          <path d="M74 31 L85 39 L74 47 Z M85 31 L96 39 L85 47 Z" fill="#555" />
        </svg>
      </div>

      {/* Price tags */}
      <svg style={abs(0, 0, 1598, 987)} viewBox="0 0 1598 987">
        <defs>
          <linearGradient id="tagFill" x1="0" x2="0" y1="0" y2="1">
            <stop offset="0" stopColor="#f6f6f6" />
            <stop offset="1" stopColor="#c6c6c6" />
          </linearGradient>
        </defs>
        {[
          { y: 711, t: "50,85", s: "#000" },
          { y: 902, t: "0,00", s: "#a0a0a0" },
          { y: 910, t: "-0,28", s: "#800080" },
          { y: 918, t: "-0,55", s: "#0000ff" },
        ].map((g) => (
          <g key={g.t}>
            <path
              d={`M1554.5 ${g.y + 0.5} L1561 ${g.y - 7.5} L1599 ${g.y - 7.5} L1599 ${g.y + 8.5} L1561 ${g.y + 8.5} Z`}
              fill="url(#tagFill)"
              stroke={g.s}
            />
            <text x={1564} y={g.y + 4} fontFamily={FONT} fontStyle="italic" fontSize={11} fill="#000">
              {g.t}
            </text>
          </g>
        ))}
      </svg>
    </div>
  );
}
